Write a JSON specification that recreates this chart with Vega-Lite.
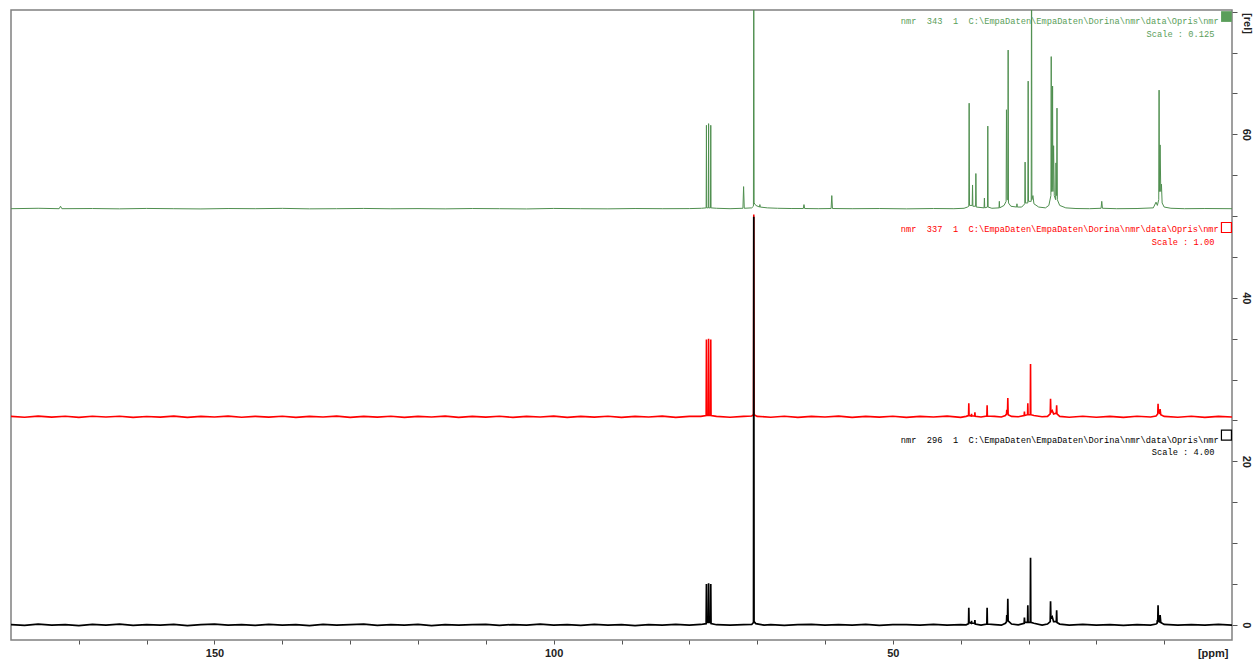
{
"$schema": "https://vega.github.io/schema/vega-lite/v6.json",
"width": 1221,
"height": 630,
"padding": {"left": 11, "top": 10, "right": 10, "bottom": 5},
"background": "#ffffff",
"config": {"view": {"stroke": "#808080", "strokeWidth": 1.5}},
"datasets": {
"spec": [
{"s":"g","p":180,"v":50.9},{"s":"g","p":176,"v":50.95},{"s":"g","p":172.9,"v":50.9},{"s":"g","p":172.7,"v":51.2},{"s":"g","p":172.5,"v":50.9},{"s":"g","p":168,"v":50.92},{"s":"g","p":164,"v":50.88},{"s":"g","p":160,"v":50.93},{"s":"g","p":156,"v":50.9},{"s":"g","p":152,"v":50.87},{"s":"g","p":148,"v":50.92},{"s":"g","p":144,"v":50.9},{"s":"g","p":140,"v":50.94},{"s":"g","p":136,"v":50.88},{"s":"g","p":132,"v":50.9},{"s":"g","p":128,"v":50.93},{"s":"g","p":124,"v":50.89},{"s":"g","p":120,"v":50.91},{"s":"g","p":116,"v":50.88},{"s":"g","p":112,"v":50.92},{"s":"g","p":108,"v":50.9},{"s":"g","p":104,"v":50.87},{"s":"g","p":100,"v":50.93},{"s":"g","p":96,"v":50.9},{"s":"g","p":92,"v":50.88},{"s":"g","p":88,"v":50.92},{"s":"g","p":84,"v":50.9},{"s":"g","p":80,"v":50.91},{"s":"g","p":78.2,"v":50.95},
{"s":"g","p":77.52,"v":51.0},{"s":"g","p":77.48,"v":61.1},{"s":"g","p":77.44,"v":51.0},{"s":"g","p":77.2,"v":51.0},{"s":"g","p":77.16,"v":61.3},{"s":"g","p":77.12,"v":51.0},{"s":"g","p":76.88,"v":51.0},{"s":"g","p":76.84,"v":61.1},{"s":"g","p":76.8,"v":51.0},
{"s":"g","p":76,"v":50.95},{"s":"g","p":74,"v":50.9},{"s":"g","p":72.1,"v":50.95},{"s":"g","p":72.0,"v":53.6},{"s":"g","p":71.9,"v":50.95},{"s":"g","p":70.8,"v":51.0},{"s":"g","p":70.55,"v":51.2},{"s":"g","p":70.5,"v":90},{"s":"g","p":70.45,"v":51.6},{"s":"g","p":70.2,"v":51.3},{"s":"g","p":69.65,"v":51.1},{"s":"g","p":69.6,"v":51.4},{"s":"g","p":69.55,"v":51.1},{"s":"g","p":68.5,"v":51.0},{"s":"g","p":67,"v":50.95},{"s":"g","p":65,"v":50.92},{"s":"g","p":63.2,"v":50.92},{"s":"g","p":63.1,"v":51.4},{"s":"g","p":63.0,"v":50.92},{"s":"g","p":61,"v":50.9},{"s":"g","p":59.1,"v":50.92},{"s":"g","p":59.0,"v":52.5},{"s":"g","p":58.9,"v":50.92},{"s":"g","p":56,"v":50.9},{"s":"g","p":52,"v":50.92},{"s":"g","p":48,"v":50.88},{"s":"g","p":44,"v":50.92},{"s":"g","p":41,"v":50.9},{"s":"g","p":39.5,"v":50.95},{"s":"g","p":39.0,"v":51.1},
{"s":"g","p":38.8,"v":51.2},{"s":"g","p":38.75,"v":63.8},{"s":"g","p":38.7,"v":51.3},{"s":"g","p":38.3,"v":51.3},{"s":"g","p":38.25,"v":53.8},{"s":"g","p":38.2,"v":51.2},{"s":"g","p":37.8,"v":51.2},{"s":"g","p":37.76,"v":55.2},{"s":"g","p":37.7,"v":51.1},{"s":"g","p":36.55,"v":51.0},{"s":"g","p":36.5,"v":52.2},{"s":"g","p":36.45,"v":51.0},{"s":"g","p":36.05,"v":51.1},{"s":"g","p":36.0,"v":61.0},{"s":"g","p":35.95,"v":51.1},{"s":"g","p":35.4,"v":50.95},{"s":"g","p":34.35,"v":51.0},{"s":"g","p":34.3,"v":51.8},{"s":"g","p":34.25,"v":51.0},{"s":"g","p":33.6,"v":51.3},{"s":"g","p":33.3,"v":51.8},{"s":"g","p":33.25,"v":63.0},{"s":"g","p":33.15,"v":52.0},{"s":"g","p":33.05,"v":52.0},{"s":"g","p":33.0,"v":70.3},{"s":"g","p":32.95,"v":51.6},{"s":"g","p":32.6,"v":51.2},{"s":"g","p":31.75,"v":51.1},{"s":"g","p":31.7,"v":51.5},{"s":"g","p":31.65,"v":51.1},{"s":"g","p":31.0,"v":51.1},{"s":"g","p":30.55,"v":51.5},{"s":"g","p":30.5,"v":56.6},{"s":"g","p":30.45,"v":51.6},{"s":"g","p":30.1,"v":51.6},{"s":"g","p":30.05,"v":66.5},{"s":"g","p":30.0,"v":51.8},{"s":"g","p":29.6,"v":51.8},{"s":"g","p":29.55,"v":90},{"s":"g","p":29.5,"v":52.0},{"s":"g","p":29.35,"v":52.5},{"s":"g","p":29.2,"v":51.5},{"s":"g","p":28.5,"v":51.1},{"s":"g","p":27.5,"v":51.0},{"s":"g","p":27.0,"v":51.3},{"s":"g","p":26.7,"v":52.5},{"s":"g","p":26.65,"v":69.5},{"s":"g","p":26.6,"v":53.0},{"s":"g","p":26.5,"v":53.5},{"s":"g","p":26.45,"v":65.9},{"s":"g","p":26.4,"v":53.0},{"s":"g","p":26.3,"v":58.6},{"s":"g","p":26.2,"v":52.5},{"s":"g","p":26.0,"v":52.0},{"s":"g","p":25.95,"v":56.5},{"s":"g","p":25.85,"v":52.5},{"s":"g","p":25.8,"v":63.2},{"s":"g","p":25.75,"v":52.0},{"s":"g","p":25.4,"v":51.3},{"s":"g","p":24.5,"v":51.0},{"s":"g","p":23,"v":50.92},{"s":"g","p":21,"v":50.9},{"s":"g","p":19.3,"v":50.95},{"s":"g","p":19.2,"v":51.8},{"s":"g","p":19.1,"v":50.95},{"s":"g","p":17,"v":50.9},{"s":"g","p":14,"v":50.92},{"s":"g","p":11.6,"v":51.0},{"s":"g","p":11.2,"v":51.7},{"s":"g","p":11.0,"v":51.3},{"s":"g","p":10.8,"v":52.0},{"s":"g","p":10.75,"v":65.4},{"s":"g","p":10.7,"v":53.0},{"s":"g","p":10.6,"v":58.7},{"s":"g","p":10.5,"v":53.0},{"s":"g","p":10.4,"v":53.9},{"s":"g","p":10.3,"v":51.6},{"s":"g","p":10.0,"v":51.1},{"s":"g","p":9,"v":50.95},{"s":"g","p":7,"v":50.9},{"s":"g","p":4,"v":50.92},{"s":"g","p":0,"v":50.9},

{"s":"r","p":180,"v":25.5},{"s":"r","p":178,"v":25.39},{"s":"r","p":176,"v":25.53},{"s":"r","p":174,"v":25.41},{"s":"r","p":172,"v":25.51},{"s":"r","p":170,"v":25.38},{"s":"r","p":168,"v":25.52},{"s":"r","p":166,"v":25.43},{"s":"r","p":164,"v":25.51},{"s":"r","p":162,"v":25.38},{"s":"r","p":160,"v":25.49},{"s":"r","p":158,"v":25.41},{"s":"r","p":156,"v":25.53},{"s":"r","p":154,"v":25.38},{"s":"r","p":152,"v":25.5},{"s":"r","p":150,"v":25.42},{"s":"r","p":148,"v":25.53},{"s":"r","p":146,"v":25.39},{"s":"r","p":144,"v":25.5},{"s":"r","p":142,"v":25.41},{"s":"r","p":140,"v":25.52},{"s":"r","p":138,"v":25.38},{"s":"r","p":136,"v":25.5},{"s":"r","p":134,"v":25.42},{"s":"r","p":132,"v":25.53},{"s":"r","p":130,"v":25.38},{"s":"r","p":128,"v":25.5},{"s":"r","p":126,"v":25.41},{"s":"r","p":124,"v":25.52},{"s":"r","p":122,"v":25.38},{"s":"r","p":120,"v":25.5},{"s":"r","p":118,"v":25.42},{"s":"r","p":116,"v":25.53},{"s":"r","p":114,"v":25.38},{"s":"r","p":112,"v":25.5},{"s":"r","p":110,"v":25.41},{"s":"r","p":108,"v":25.52},{"s":"r","p":106,"v":25.38},{"s":"r","p":104,"v":25.5},{"s":"r","p":102,"v":25.42},{"s":"r","p":100,"v":25.53},{"s":"r","p":98,"v":25.38},{"s":"r","p":96,"v":25.5},{"s":"r","p":94,"v":25.41},{"s":"r","p":92,"v":25.52},{"s":"r","p":90,"v":25.38},{"s":"r","p":88,"v":25.5},{"s":"r","p":86,"v":25.42},{"s":"r","p":84,"v":25.53},{"s":"r","p":82,"v":25.38},{"s":"r","p":80,"v":25.5},{"s":"r","p":78.3,"v":25.5},
{"s":"r","p":77.52,"v":25.6},{"s":"r","p":77.48,"v":34.9},{"s":"r","p":77.44,"v":25.6},{"s":"r","p":77.2,"v":25.6},{"s":"r","p":77.16,"v":35.0},{"s":"r","p":77.12,"v":25.6},{"s":"r","p":76.88,"v":25.6},{"s":"r","p":76.84,"v":34.9},{"s":"r","p":76.8,"v":25.6},
{"s":"r","p":76,"v":25.5},{"s":"r","p":74,"v":25.4},{"s":"r","p":72,"v":25.5},{"s":"r","p":70.8,"v":25.55},{"s":"r","p":70.54,"v":25.7},{"s":"r","p":70.5,"v":50.2},{"s":"r","p":70.46,"v":25.7},{"s":"r","p":70,"v":25.5},{"s":"r","p":68,"v":25.4},{"s":"r","p":66,"v":25.52},{"s":"r","p":64,"v":25.38},{"s":"r","p":62,"v":25.5},{"s":"r","p":60,"v":25.42},{"s":"r","p":58,"v":25.53},{"s":"r","p":56,"v":25.38},{"s":"r","p":54,"v":25.5},{"s":"r","p":52,"v":25.41},{"s":"r","p":50,"v":25.52},{"s":"r","p":48,"v":25.38},{"s":"r","p":46,"v":25.5},{"s":"r","p":44,"v":25.42},{"s":"r","p":42,"v":25.53},{"s":"r","p":40,"v":25.38},{"s":"r","p":39.2,"v":25.5},
{"s":"r","p":38.84,"v":25.6},{"s":"r","p":38.8,"v":27.1},{"s":"r","p":38.76,"v":25.6},{"s":"r","p":38.44,"v":25.55},{"s":"r","p":38.4,"v":25.8},{"s":"r","p":38.36,"v":25.55},{"s":"r","p":37.94,"v":25.55},{"s":"r","p":37.9,"v":26.0},{"s":"r","p":37.86,"v":25.5},{"s":"r","p":37.0,"v":25.42},{"s":"r","p":36.14,"v":25.55},{"s":"r","p":36.1,"v":26.85},{"s":"r","p":36.06,"v":25.55},{"s":"r","p":35.0,"v":25.5},{"s":"r","p":34.0,"v":25.42},{"s":"r","p":33.4,"v":25.6},{"s":"r","p":33.24,"v":25.8},{"s":"r","p":33.2,"v":26.3},{"s":"r","p":33.1,"v":25.9},{"s":"r","p":33.05,"v":27.75},{"s":"r","p":33.0,"v":25.7},{"s":"r","p":32.5,"v":25.5},{"s":"r","p":31.5,"v":25.45},{"s":"r","p":30.64,"v":25.6},{"s":"r","p":30.6,"v":26.1},{"s":"r","p":30.56,"v":25.6},{"s":"r","p":30.14,"v":25.7},{"s":"r","p":30.1,"v":27.1},{"s":"r","p":30.06,"v":25.7},{"s":"r","p":29.74,"v":25.7},{"s":"r","p":29.7,"v":31.9},{"s":"r","p":29.66,"v":25.7},{"s":"r","p":29.2,"v":25.6},{"s":"r","p":28.0,"v":25.45},{"s":"r","p":27.2,"v":25.5},{"s":"r","p":26.8,"v":25.8},{"s":"r","p":26.75,"v":27.65},{"s":"r","p":26.7,"v":26.0},{"s":"r","p":26.5,"v":26.2},{"s":"r","p":26.3,"v":25.8},{"s":"r","p":25.9,"v":25.9},{"s":"r","p":25.85,"v":26.85},{"s":"r","p":25.8,"v":25.8},{"s":"r","p":25.4,"v":25.5},{"s":"r","p":24,"v":25.4},{"s":"r","p":22,"v":25.52},{"s":"r","p":20,"v":25.4},{"s":"r","p":18,"v":25.5},{"s":"r","p":16,"v":25.38},{"s":"r","p":14,"v":25.52},{"s":"r","p":12,"v":25.42},{"s":"r","p":11.2,"v":25.55},{"s":"r","p":10.95,"v":25.8},{"s":"r","p":10.9,"v":27.05},{"s":"r","p":10.85,"v":26.0},{"s":"r","p":10.7,"v":25.9},{"s":"r","p":10.6,"v":26.4},{"s":"r","p":10.5,"v":25.7},{"s":"r","p":10,"v":25.5},{"s":"r","p":8,"v":25.4},{"s":"r","p":6,"v":25.52},{"s":"r","p":4,"v":25.38},{"s":"r","p":2,"v":25.5},{"s":"r","p":0,"v":25.42},

{"s":"k","p":180,"v":0.04},{"s":"k","p":178,"v":-0.06},{"s":"k","p":176,"v":0.08},{"s":"k","p":174,"v":-0.04},{"s":"k","p":172,"v":0.02},{"s":"k","p":170,"v":-0.08},{"s":"k","p":168,"v":0.06},{"s":"k","p":166,"v":-0.02},{"s":"k","p":164,"v":0.08},{"s":"k","p":162,"v":-0.06},{"s":"k","p":160,"v":0.04},{"s":"k","p":158,"v":-0.04},{"s":"k","p":156,"v":0.06},{"s":"k","p":154,"v":-0.08},{"s":"k","p":152,"v":0.02},{"s":"k","p":150,"v":0.08},{"s":"k","p":148,"v":-0.04},{"s":"k","p":146,"v":0.04},{"s":"k","p":144,"v":-0.06},{"s":"k","p":142,"v":0.06},{"s":"k","p":140,"v":-0.02},{"s":"k","p":138,"v":0.04},{"s":"k","p":136,"v":-0.08},{"s":"k","p":134,"v":0.06},{"s":"k","p":132,"v":-0.04},{"s":"k","p":130,"v":0.02},{"s":"k","p":128,"v":0.08},{"s":"k","p":126,"v":-0.06},{"s":"k","p":124,"v":0.04},{"s":"k","p":122,"v":-0.02},{"s":"k","p":120,"v":0.06},{"s":"k","p":118,"v":-0.08},{"s":"k","p":116,"v":0.04},{"s":"k","p":114,"v":-0.04},{"s":"k","p":112,"v":0.02},{"s":"k","p":110,"v":0.06},{"s":"k","p":108,"v":-0.06},{"s":"k","p":106,"v":0.04},{"s":"k","p":104,"v":-0.02},{"s":"k","p":102,"v":0.08},{"s":"k","p":100,"v":-0.04},{"s":"k","p":98,"v":0.02},{"s":"k","p":96,"v":-0.06},{"s":"k","p":94,"v":0.06},{"s":"k","p":92,"v":-0.02},{"s":"k","p":90,"v":0.04},{"s":"k","p":88,"v":-0.08},{"s":"k","p":86,"v":0.04},{"s":"k","p":84,"v":-0.02},{"s":"k","p":82,"v":0.06},{"s":"k","p":80,"v":-0.04},{"s":"k","p":78.3,"v":0.05},
{"s":"k","p":77.52,"v":0.15},{"s":"k","p":77.48,"v":5.0},{"s":"k","p":77.44,"v":0.3},{"s":"k","p":77.2,"v":0.3},{"s":"k","p":77.16,"v":5.1},{"s":"k","p":77.12,"v":0.3},{"s":"k","p":76.88,"v":0.3},{"s":"k","p":76.84,"v":5.0},{"s":"k","p":76.8,"v":0.15},
{"s":"k","p":76,"v":0.02},{"s":"k","p":74,"v":-0.04},{"s":"k","p":72,"v":0.04},{"s":"k","p":70.8,"v":0.05},{"s":"k","p":70.54,"v":0.3},{"s":"k","p":70.5,"v":49.9},{"s":"k","p":70.46,"v":0.4},{"s":"k","p":70.2,"v":0.15},{"s":"k","p":69,"v":-0.02},{"s":"k","p":68,"v":0.04},{"s":"k","p":66,"v":-0.06},{"s":"k","p":64,"v":0.02},{"s":"k","p":62,"v":0.06},{"s":"k","p":60,"v":-0.04},{"s":"k","p":58,"v":0.04},{"s":"k","p":56,"v":-0.02},{"s":"k","p":54,"v":0.06},{"s":"k","p":52,"v":-0.06},{"s":"k","p":50,"v":0.02},{"s":"k","p":48,"v":0.04},{"s":"k","p":46,"v":-0.04},{"s":"k","p":44,"v":0.06},{"s":"k","p":42,"v":-0.02},{"s":"k","p":40,"v":0.04},{"s":"k","p":39.2,"v":0.0},
{"s":"k","p":38.84,"v":0.15},{"s":"k","p":38.8,"v":2.1},{"s":"k","p":38.76,"v":0.3},{"s":"k","p":38.44,"v":0.2},{"s":"k","p":38.4,"v":0.5},{"s":"k","p":38.36,"v":0.2},{"s":"k","p":37.94,"v":0.2},{"s":"k","p":37.9,"v":0.6},{"s":"k","p":37.86,"v":0.1},{"s":"k","p":37.0,"v":-0.02},{"s":"k","p":36.14,"v":0.1},{"s":"k","p":36.1,"v":2.1},{"s":"k","p":36.06,"v":0.1},{"s":"k","p":35.0,"v":0.02},{"s":"k","p":34.0,"v":-0.04},{"s":"k","p":33.4,"v":0.2},{"s":"k","p":33.24,"v":0.4},{"s":"k","p":33.2,"v":1.2},{"s":"k","p":33.1,"v":0.6},{"s":"k","p":33.05,"v":3.2},{"s":"k","p":33.0,"v":0.5},{"s":"k","p":32.5,"v":0.1},{"s":"k","p":31.5,"v":0.0},{"s":"k","p":30.64,"v":0.2},{"s":"k","p":30.6,"v":0.9},{"s":"k","p":30.56,"v":0.3},{"s":"k","p":30.14,"v":0.3},{"s":"k","p":30.1,"v":2.4},{"s":"k","p":30.06,"v":0.3},{"s":"k","p":29.74,"v":0.3},{"s":"k","p":29.7,"v":8.2},{"s":"k","p":29.66,"v":0.3},{"s":"k","p":29.2,"v":0.2},{"s":"k","p":28.0,"v":-0.02},{"s":"k","p":27.2,"v":0.1},{"s":"k","p":26.8,"v":0.4},{"s":"k","p":26.75,"v":2.9},{"s":"k","p":26.7,"v":0.8},{"s":"k","p":26.5,"v":1.0},{"s":"k","p":26.3,"v":0.4},{"s":"k","p":25.9,"v":0.4},{"s":"k","p":25.85,"v":1.8},{"s":"k","p":25.8,"v":0.3},{"s":"k","p":25.4,"v":0.1},{"s":"k","p":24,"v":-0.04},{"s":"k","p":22,"v":0.06},{"s":"k","p":20,"v":-0.02},{"s":"k","p":18,"v":0.04},{"s":"k","p":16,"v":-0.06},{"s":"k","p":14,"v":0.04},{"s":"k","p":12,"v":-0.02},{"s":"k","p":11.2,"v":0.1},{"s":"k","p":11.05,"v":0.2},{"s":"k","p":11.0,"v":0.6},{"s":"k","p":10.95,"v":0.3},{"s":"k","p":10.9,"v":2.4},{"s":"k","p":10.85,"v":0.5},{"s":"k","p":10.7,"v":0.4},{"s":"k","p":10.6,"v":1.2},{"s":"k","p":10.5,"v":0.3},{"s":"k","p":10,"v":0.05},{"s":"k","p":8,"v":-0.04},{"s":"k","p":6,"v":0.02},{"s":"k","p":4,"v":-0.04},{"s":"k","p":2,"v":0.06},{"s":"k","p":0,"v":-0.02}
],
"lbl": [
{"s":"g","p":1.95,"v":73.9,"t":"nmr\u00a0\u00a0343\u00a0\u00a01\u00a0\u00a0C:\\EmpaDaten\\EmpaDaten\\Dorina\\nmr\\data\\Opris\\nmr"},
{"s":"g","p":2.6,"v":72.3,"t":"Scale\u00a0:\u00a00.125"},
{"s":"r","p":1.95,"v":48.4,"t":"nmr\u00a0\u00a0337\u00a0\u00a01\u00a0\u00a0C:\\EmpaDaten\\EmpaDaten\\Dorina\\nmr\\data\\Opris\\nmr"},
{"s":"r","p":2.6,"v":46.8,"t":"Scale\u00a0:\u00a01.00"},
{"s":"k","p":1.95,"v":22.6,"t":"nmr\u00a0\u00a0296\u00a0\u00a01\u00a0\u00a0C:\\EmpaDaten\\EmpaDaten\\Dorina\\nmr\\data\\Opris\\nmr"},
{"s":"k","p":2.6,"v":21.2,"t":"Scale\u00a0:\u00a04.00"}
],
"mk": [
{"s":"g","p":0.82,"v":74.4},
{"s":"r","p":0.82,"v":48.6},
{"s":"k","p":0.82,"v":23.2}
]
},
"encoding": {
"x": {"field": "p", "type": "quantitative",
"scale": {"domain": [180, 0], "nice": false, "zero": false},
"axis": {"orient": "bottom", "values": [170,160,150,140,130,120,110,100,90,80,70,60,50,40,30,20,10],
"labelExpr": "datum.value % 50 === 0 ? datum.label : ''",
"grid": false, "domain": false, "tickSize": 4, "tickColor": "#555555", "tickWidth": 1,
"labelPadding": 3, "labelFont": "Liberation Sans", "labelFontSize": 11, "labelFontWeight": "bold", "labelColor": "#222222",
"labelOverlap": false, "labelFlush": false,
"title": "[ppm]", "titleX": 1217, "titleY": 13, "titleAlign": "right", "titleBaseline": "middle", "titleAngle": 0,
"titleFont": "Liberation Sans", "titleFontSize": 11, "titleFontWeight": "bold", "titleColor": "#222222"}},
"y": {"field": "v", "type": "quantitative",
"scale": {"domain": [-1.85, 75.2], "nice": false, "zero": false},
"axis": {"orient": "right", "values": [0,5,10,15,20,25,30,35,40,45,50,55,60,65,70,75],
"labelExpr": "datum.value % 20 === 0 ? datum.label : ''",
"grid": false, "domain": false, "tickSize": 5, "tickColor": "#555555", "tickWidth": 1,
"labelAngle": 90, "labelAlign": "center", "labelBaseline": "middle", "labelPadding": 8,
"labelFont": "Liberation Sans", "labelFontSize": 11, "labelFontWeight": "bold", "labelColor": "#222222",
"labelOverlap": false, "labelFlush": false,
"title": "[rel]", "titleAngle": 90, "titleX": 14, "titleY": 13, "titleAlign": "center", "titleBaseline": "middle",
"titleFont": "Liberation Sans", "titleFontSize": 11, "titleFontWeight": "bold", "titleColor": "#222222"}}
},
"layer": [
{"data": {"name": "spec"}, "transform": [{"filter": "datum.s === 'g'"}],
"mark": {"type": "line", "color": "#4f8f4f", "strokeWidth": 1, "clip": true}},
{"data": {"name": "spec"}, "transform": [{"filter": "datum.s === 'r'"}],
"mark": {"type": "line", "color": "#ff0000", "strokeWidth": 1.6, "clip": true}},
{"data": {"name": "spec"}, "transform": [{"filter": "datum.s === 'k'"}],
"mark": {"type": "line", "color": "#000000", "strokeWidth": 1.7, "clip": true}},
{"data": {"name": "lbl"},
"mark": {"type": "text", "font": "Liberation Mono", "fontSize": 8.7, "align": "right", "baseline": "middle"},
"encoding": {"text": {"field": "t"},
"color": {"field": "s", "type": "nominal", "legend": null, "scale": {"domain": ["g","r","k"], "range": ["#5a9e5a","#ff0000","#000000"]}}}},
{"data": {"name": "mk"}, "transform": [{"filter": "datum.s === 'g'"}],
"mark": {"type": "point", "shape": "square", "filled": true, "size": 115, "opacity": 1},
"encoding": {"color": {"field": "s", "type": "nominal", "legend": null, "scale": {"domain": ["g","r","k"], "range": ["#4f8f4f","#ff0000","#000000"]}}}},
{"data": {"name": "mk"}, "transform": [{"filter": "datum.s !== 'g'"}],
"mark": {"type": "point", "shape": "square", "filled": false, "size": 100, "opacity": 1, "strokeWidth": 1.2},
"encoding": {"color": {"field": "s", "type": "nominal", "legend": null, "scale": {"domain": ["g","r","k"], "range": ["#4f8f4f","#ff0000","#000000"]}}}}
]
}
